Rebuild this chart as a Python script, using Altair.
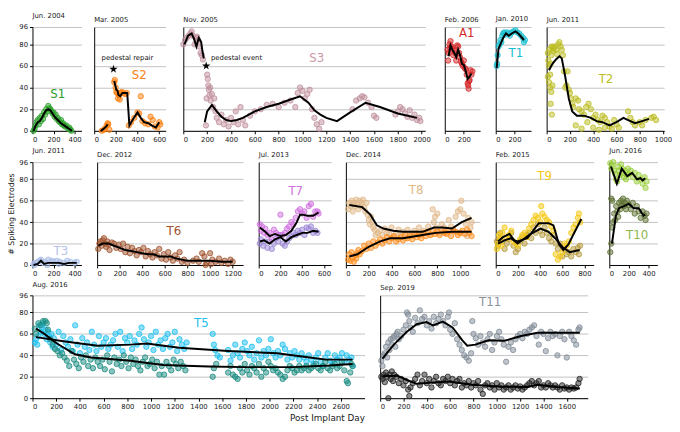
import altair as alt
import pandas as pd

YT = [0, 20, 40, 60, 80, 96]

S1_px = [10, 20, 30, 40, 50, 60, 70, 80, 90, 100, 110, 120, 130, 140, 150, 160, 170, 180, 190, 200, 210, 220, 230, 240, 250, 260, 270, 280, 290, 300, 310, 320, 340, 350, 360, 370]
S1_py = [0, 2, 5, 8, 10, 6, 12, 9, 14, 11, 17, 15, 20, 18, 23, 21, 20, 18, 16, 17, 13, 15, 11, 12, 9, 8, 10, 6, 7, 5, 4, 5, 2, 3, 1, 0]
S1_lx = [10, 30, 50, 70, 90, 110, 130, 150, 170, 190, 210, 240, 270, 300, 330, 360, 375]
S1_ly = [0, 5, 8, 9, 12, 16, 19, 20, 19, 16, 13, 10, 7, 5, 3, 1, 0]

S2_px = [70, 90, 100, 115, 125, 130, 140, 185, 190, 198, 205, 212, 220, 228, 236, 245, 255, 270, 285, 300, 320, 340, 370, 400, 415, 430, 445, 470, 500, 520, 540, 560, 585, 600, 610]
S2_py = [0, 1, 2, 5, 7, 6, 1, 45, 47, 40, 36, 35, 30, 33, 29, 35, 36, 35, 34, 35, 5, 8, 12, 17, 16, 32, 9, 7, 6, 13, 10, 4, 3, 8, 6]
S2_l1x = [60, 90, 110, 125]
S2_l1y = [0, 2, 4, 6]
S2_l2x = [185, 195, 205, 215, 225, 240, 260, 290, 305, 325, 360, 400, 430, 460, 500, 530, 570, 600]
S2_l2y = [46, 42, 38, 37, 33, 32, 35, 35, 35, 5, 11, 17, 12, 8, 7, 5, 3, 8]

S3_px = [0, 15, 30, 45, 60, 70, 80, 95, 105, 115, 125, 135, 145, 155, 165,
         190, 195, 200, 205, 210, 215, 220, 225, 230, 240, 250, 260, 270, 280, 300, 320, 340, 360, 380, 400,
         420, 440, 460, 480, 500, 520, 560, 600, 650, 700, 750, 800, 850, 900, 940, 960, 980, 1000, 1020,
         1040, 1060, 1080, 1100, 1120, 1140, 1160, 1420, 1450, 1480, 1500, 1520, 1550, 1580, 1600, 1620,
         1780, 1800, 1820, 1840, 1860, 1880, 1900, 1920, 1940, 1960, 1980, 1990]
S3_py = [80, 84, 86, 88, 90, 92, 88, 80, 86, 87, 84, 78, 72, 70, 66,
         5, 30, 52, 48, 42, 38, 33, 40, 28, 34, 22, 30, 18, 12, 8, 15, 6, 10, 4, 12,
         8, 18, 6, 22, 10, 5, 14, 18, 20, 24, 25, 22, 26, 28, 22, 35, 40, 37, 30,
         34, 38, 20, 12, 6, 2, 8, 20, 28, 30, 32, 31, 26, 22, 14, 12,
         15, 18, 22, 20, 16, 13, 19, 12, 15, 10, 12, 9]
S3_l1x = [10, 40, 70, 90, 110, 130, 150, 160, 172]
S3_l1y = [80, 88, 90, 85, 78, 86, 82, 74, 67]
S3_l2x = [180, 200, 240, 280, 320, 360, 400, 450, 500, 600, 700, 800, 900, 980, 1050, 1100, 1150, 1200, 1290, 1400, 1530, 1650, 1800, 1960]
S3_l2y = [8, 18, 24, 18, 13, 10, 9, 10, 12, 18, 22, 25, 29, 32, 26, 19, 15, 12, 9, 17, 26, 22, 16, 12]

A1_px = [30, 35, 40, 50, 55, 60, 70, 80, 90, 100, 110, 120, 130, 140, 150, 160, 170, 180, 190, 200, 210, 220, 230, 240, 245, 250, 255, 260, 270, 280, 290]
A1_py = [75, 65, 72, 80, 77, 83, 78, 76, 70, 74, 72, 65, 79, 78, 72, 68, 64, 62, 60, 65, 58, 57, 52, 44, 42, 39, 46, 47, 56, 52, 55]
A1_lx = [40, 60, 80, 100, 120, 140, 160, 180, 200, 220, 240, 260, 280]
A1_ly = [69, 79, 75, 72, 68, 75, 70, 62, 61, 55, 48, 50, 53]

T1_px = [10, 15, 20, 30, 40, 50, 60, 70, 80, 90, 100, 120, 140, 150, 170, 190, 210, 230, 250, 270, 290, 300, 310]
T1_py = [60, 62, 70, 78, 80, 84, 82, 88, 90, 91, 89, 91, 90, 88, 91, 92, 93, 91, 90, 88, 86, 82, 84]
T1_lx = [10, 30, 50, 80, 110, 140, 170, 210, 240, 270, 300]
T1_ly = [58, 76, 80, 86, 90, 88, 90, 92, 90, 87, 84]

T2_px = [10, 15, 20, 25, 30, 35, 40, 45, 50, 55, 60, 70, 80, 90, 100, 110, 120, 130, 140, 150, 160, 170, 180, 10, 20, 30, 40, 50, 35, 45,
         190, 200, 210, 220, 230, 250, 270, 280, 300, 320, 340, 360, 380, 400, 420, 440, 460, 480, 500, 520, 540, 560, 580, 600, 620,
         700, 720, 740, 760, 800, 820, 850, 900, 920, 940, 250, 300, 350, 400, 450, 500]
T2_py = [72, 65, 60, 75, 52, 62, 70, 78, 77, 74, 76, 78, 75, 71, 80, 82, 78, 75, 70, 55, 40, 42, 55, 50, 45, 40, 36, 42, 25, 15,
         38, 35, 30, 25, 22, 30, 28, 20, 18, 15, 22, 25, 20, 12, 15, 10, 8, 14, 12, 8, 4, 2, 10, 6, 3,
         18, 12, 8, 5, 8, 5, 10, 12, 13, 10, 5, 2, 8, 3, 1, 3]
T2_lx = [20, 50, 80, 110, 130, 160, 190, 220, 260, 320, 380, 430, 480, 540, 600, 660, 700, 760, 820, 880]
T2_ly = [56, 62, 66, 69, 67, 50, 30, 18, 14, 14, 12, 9, 8, 5, 8, 12, 10, 7, 9, 11]

T3_px = [10, 20, 30, 50, 70, 80, 100, 120, 140, 150, 180, 200, 230, 250, 260, 300, 330, 360, 400, 420]
T3_py = [1, 0, 2, 3, 4, 5, 2, 3, 0, 5, 4, 3, 4, 1, 3, 2, 4, 3, 2, 3]
T3_lx = [10, 50, 80, 110, 150, 200, 250, 300, 350, 420]
T3_ly = [0, 1, 4, 1, 2, 2, 2, 1, 2, 2]

T6_px = [10, 20, 30, 40, 50, 60, 70, 80, 90, 100, 110, 130, 150, 170, 190, 210, 230, 250, 270, 290, 310, 330, 350, 370, 390,
         410, 430, 450, 470, 490, 510, 530, 550, 570, 590, 610, 630, 650, 670, 690, 710, 730, 750, 770, 800, 850, 880, 900,
         930, 950, 970, 1000, 1020, 1050, 1080, 1100, 1130, 1160, 1180, 1200, 960, 1010]
T6_py = [15, 20, 22, 18, 23, 25, 20, 17, 22, 19, 14, 21, 20, 16, 19, 15, 20, 12, 17, 11, 16, 13, 9, 14, 12,
         16, 8, 13, 10, 7, 12, 9, 15, 6, 10, 5, 12, 7, 4, 9, 6, 12, 3, 5, 2, 4, 6, 3,
         11, 8, 2, 11, 5, 3, 6, 2, 4, 1, 5, 3, 0, 1]
T6_lx = [10, 50, 100, 150, 200, 250, 300, 350, 400, 450, 500, 550, 600, 650, 700, 750, 800, 900, 1000, 1100, 1200]
T6_ly = [18, 20, 20, 18, 16, 14, 13, 12, 11, 10, 10, 8, 8, 8, 6, 5, 4, 4, 4, 3, 3]

T7a_px = [10, 20, 30, 50, 60, 80, 100, 120, 140, 160, 180, 200, 220, 240, 260, 280, 300, 320, 340, 360, 380, 400, 420, 440, 460, 480, 500, 520, 540, 550]
T7a_py = [38, 32, 36, 30, 34, 28, 30, 24, 33, 30, 28, 47, 28, 30, 34, 36, 40, 38, 44, 50, 52, 48, 50, 44, 55, 57, 45, 50, 50, 48]
T7a_lx = [10, 60, 100, 150, 200, 250, 300, 350, 380, 400, 450, 500, 550]
T7a_ly = [35, 31, 27, 29, 27, 28, 32, 40, 47, 47, 46, 46, 49]
T7b_px = [10, 20, 40, 60, 80, 100, 120, 140, 160, 180, 200, 220, 240, 260, 280, 300, 320, 340, 360, 380, 400, 420, 440, 460, 480, 500, 520, 540]
T7b_py = [20, 24, 18, 22, 16, 22, 15, 20, 25, 22, 28, 20, 18, 22, 25, 27, 30, 28, 32, 30, 33, 28, 35, 34, 36, 30, 32, 30]
T7b_lx = [10, 50, 100, 150, 200, 250, 300, 350, 400, 450, 500, 550]
T7b_ly = [22, 23, 20, 24, 26, 22, 26, 28, 30, 30, 32, 31]

T8a_px = [20, 30, 40, 50, 60, 70, 80, 90, 100, 110, 120, 130, 140, 150, 160, 170, 180, 190, 200, 210, 220, 230, 240, 250, 260, 280,
          300, 320, 340, 360, 380, 400, 420, 440, 460, 480, 500, 520, 540, 560, 580, 600, 620, 640, 660, 680, 700, 720, 740,
          760, 770, 780, 790, 800, 820, 840, 860, 880, 900, 920, 940, 960, 980, 1000, 1010, 1030, 1050, 1070, 1090, 1100, 1000, 1060]
T8a_py = [52, 58, 55, 60, 50, 58, 55, 61, 57, 52, 60, 55, 58, 61, 54, 50, 58, 47, 42, 38, 45, 40, 35, 33, 28, 30,
          32, 28, 34, 30, 29, 35, 26, 30, 33, 28, 31, 25, 33, 29, 27, 32, 30, 35, 28, 32, 30, 36, 28,
          52, 40, 45, 35, 48, 30, 38, 35, 30, 42, 36, 32, 45, 50, 52, 60, 48, 38, 44, 35, 40, 30, 27]
T8a_lx = [30, 143, 214, 271, 329, 414, 500, 671, 771, 843, 929, 1014, 1100]
T8a_ly = [56, 54, 47, 37, 34, 32, 31, 31, 35, 35, 34, 40, 44]
T8b_px = [20, 30, 40, 50, 60, 70, 80, 90, 100, 110, 120, 140, 160, 180, 200, 220, 240, 260, 280, 300, 320, 340, 360, 380, 400,
          420, 440, 460, 480, 500, 520, 540, 560, 580, 600, 620, 640, 660, 680, 700, 720, 740, 760, 780, 800, 820, 840,
          860, 880, 900, 920, 940, 960, 980, 1000, 1020, 1040, 1060, 1080, 1100]
T8b_py = [5, 10, 4, 12, 7, 3, 9, 6, 11, 14, 10, 13, 18, 15, 20, 16, 22, 18, 21, 24, 20, 23, 26, 22, 25,
          27, 22, 24, 26, 23, 28, 25, 27, 24, 29, 26, 28, 25, 30, 27, 31, 28, 32, 29, 31, 28, 33,
          30, 29, 32, 27, 33, 31, 28, 30, 32, 29, 33, 30, 27]
T8b_lx = [30, 100, 200, 300, 386, 500, 671, 786, 929, 1100]
T8b_ly = [8, 10, 17, 22, 25, 25, 28, 30, 31, 31]

T9a_px = [10, 20, 30, 40, 50, 60, 80, 100, 120, 140, 160, 180, 200, 220, 240, 260, 280, 300, 320, 340, 360, 380, 400, 410, 420,
          440, 460, 480, 500, 520, 540, 560, 580, 600, 620, 640, 660, 680, 700, 720, 740, 750, 760]
T9a_py = [15, 20, 28, 24, 18, 30, 35, 25, 28, 32, 22, 20, 18, 24, 28, 30, 26, 34, 38, 42, 46, 44, 40, 55, 48,
          45, 42, 40, 36, 32, 10, 5, 8, 12, 20, 18, 22, 30, 35, 38, 44, 48, 40]
T9a_lx = [21, 65, 124, 168, 197, 285, 388, 476, 520, 571, 609, 653, 712, 771]
T9a_ly = [22, 26, 29, 23, 22, 25, 39, 39, 37, 19, 14, 19, 31, 43]
T9b_px = [10, 20, 30, 40, 60, 80, 100, 120, 140, 160, 180, 200, 220, 240, 260, 280, 300, 320, 340, 360, 380, 400, 420, 440,
          460, 480, 500, 520, 540, 560, 580, 600, 620, 640, 660, 680, 700, 720, 740, 760, 750]
T9b_py = [22, 18, 25, 30, 22, 15, 20, 24, 30, 18, 12, 15, 22, 26, 20, 28, 30, 25, 35, 30, 38, 32, 28, 35,
          30, 25, 22, 28, 20, 15, 20, 8, 14, 10, 12, 8, 15, 12, 16, 18, 10]
T9b_lx = [21, 79, 138, 197, 300, 403, 476, 535, 609, 668, 756]
T9b_ly = [20, 23, 25, 20, 28, 34, 31, 25, 16, 12, 14]

T10a_px = [10, 20, 30, 40, 50, 60, 70, 80, 90, 100, 110, 120, 130, 140, 150, 160, 170, 180, 190, 200, 220, 240, 260, 280, 300, 320, 340, 360, 370, 380]
T10a_py = [95, 90, 93, 96, 88, 85, 80, 78, 92, 88, 84, 94, 90, 86, 82, 88, 80, 84, 90, 85, 88, 82, 86, 78, 84, 80, 76, 82, 72, 78]
T10a_lx = [17, 77, 127, 183, 233, 283, 317, 340, 367]
T10a_ly = [92, 76, 90, 83, 86, 80, 81, 79, 81]
T10b_px = [10, 20, 30, 40, 50, 60, 70, 80, 90, 100, 110, 120, 130, 140, 150, 160, 170, 180, 200, 220, 240, 260, 280, 300, 320, 340, 360, 370, 380, 30, 20]
T10b_py = [12, 20, 35, 40, 48, 42, 55, 50, 45, 58, 52, 60, 56, 62, 55, 58, 52, 60, 56, 52, 58, 48, 55, 50, 44, 50, 46, 42, 48, 60, 62]
T10b_lx = [27, 67, 100, 150, 200, 250, 300, 350, 367]
T10b_ly = [20, 46, 53, 55, 57, 53, 53, 46, 47]

T5a_px = [20, 30, 40, 50, 60, 70, 80, 90, 100, 110, 120, 130, 140, 150, 160, 170, 180, 200, 220, 240, 260, 280, 300, 320, 340,
          360, 380, 400, 420, 440, 460, 480, 500, 520, 540, 560, 580, 600, 620, 640, 660, 680, 700, 720, 740, 760, 780, 800,
          820, 840, 860, 880, 900, 920, 940, 960, 980, 1000, 1020, 1040, 1060, 1080, 1100, 1120, 1140, 1160, 1180, 1200, 1220,
          1240, 1260, 1280, 1300, 1520, 1530, 1540, 1560, 1580, 1650, 1670, 1690, 1710, 1730, 1750, 1770, 1790, 1810, 1830,
          1850, 1870, 1890, 1910, 1930, 1950, 1970, 1990, 2010, 2030, 2050, 2070, 2090, 2110, 2130, 2150, 2170, 2190, 2210,
          2230, 2250, 2270, 2290, 2310, 2330, 2350, 2370, 2390, 2410, 2430, 2450, 2470, 2490, 2510, 2530, 2550, 2570, 2590,
          2610, 2630, 2650, 2670, 2690, 2700]
T5a_py = [52, 55, 50, 58, 68, 62, 66, 70, 60, 64, 55, 62, 58, 52, 60, 48, 56, 50, 62, 45, 58, 52, 48, 55, 44,
          68, 50, 42, 56, 48, 52, 45, 62, 50, 44, 58, 48, 52, 56, 46, 50, 54, 60, 48, 62, 44, 56, 52,
          58, 46, 54, 50, 60, 66, 55, 48, 52, 58, 45, 62, 50, 54, 46, 56, 60, 48, 52, 62, 44,
          55, 50, 46, 52, 60, 50, 45, 40, 38, 45, 35, 40, 50, 42, 38, 46, 52, 44, 40,
          48, 36, 42, 54, 38, 44, 40, 46, 55, 42, 38, 44, 40, 50, 46, 36, 42, 38, 44,
          40, 36, 42, 38, 34, 40, 36, 32, 38, 42, 34, 30, 38, 42, 35, 32, 40, 36, 38,
          42, 34, 40, 36, 38, 30]
T5a_lx = [30, 275, 550, 825, 963, 1238, 1650, 2063, 2338, 2476, 2700]
T5a_ly = [57, 53, 49, 50, 51, 47, 44, 42, 38, 36, 36]
T5b_px = [20, 30, 50, 70, 90, 110, 120, 130, 150, 170, 190, 210, 230, 250, 270, 290, 310, 330, 350, 370, 390, 410, 430, 450,
          470, 490, 510, 530, 550, 570, 590, 610, 630, 650, 670, 690, 710, 730, 750, 770, 790, 810, 830, 850, 870, 890, 910,
          930, 950, 970, 990, 1010, 1030, 1050, 1070, 1090, 1110, 1130, 1150, 1170, 1190, 1210, 1230, 1250, 1270, 1290,
          1520, 1530, 1550, 1650, 1670, 1690, 1710, 1730, 1750, 1770, 1790, 1810, 1830, 1850, 1870, 1890, 1910, 1930,
          1950, 1970, 1990, 2010, 2030, 2050, 2070, 2090, 2110, 2130, 2150, 2170, 2190, 2210, 2230, 2250, 2270, 2290,
          2310, 2330, 2350, 2370, 2390, 2410, 2430, 2450, 2470, 2490, 2510, 2530, 2550, 2570, 2590, 2610, 2630, 2650,
          2660, 2680, 2690, 2700]
T5b_py = [65, 60, 70, 68, 72, 72, 70, 64, 55, 50, 46, 44, 40, 42, 38, 35, 30, 44, 36, 32, 28, 38, 34, 40,
          30, 36, 28, 38, 34, 30, 36, 27, 40, 34, 25, 38, 32, 36, 30, 40, 34, 28, 38, 32, 36, 30, 26,
          34, 38, 30, 32, 36, 28, 34, 22, 30, 22, 34, 30, 26, 36, 32, 28, 34, 30, 26,
          20, 28, 32, 24, 30, 22, 20, 18, 28, 24, 32, 26, 22, 30, 28, 24, 32, 20,
          28, 24, 34, 30, 26, 28, 24, 22, 18, 20, 26, 30, 28, 24, 26, 30, 26, 28,
          30, 26, 28, 30, 32, 28, 26, 30, 34, 28, 26, 30, 32, 28, 30, 34, 26, 16,
          14, 24, 32, 30]
T5b_lx = [30, 100, 206, 358, 495, 825, 1100, 1485, 1800, 2200, 2500, 2700]
T5b_ly = [65, 60, 51, 41, 38, 35, 31, 29.5, 29, 29, 30.5, 32]

T11a_px = [10, 20, 30, 40, 50, 60, 70, 80, 90, 100, 110, 120, 130, 140, 150, 160, 180, 200, 220, 230, 240, 250, 260, 280, 300,
           320, 340, 360, 380, 400, 420, 440, 460, 480, 500, 520, 540, 560, 580, 590, 600, 620, 640, 660, 680, 700, 720,
           740, 760, 780, 790, 800, 820, 840, 860, 880, 900, 920, 940, 960, 980, 1000, 1020, 1040, 1060, 1080, 1100,
           1120, 1140, 1160, 1180, 1200, 1220, 1240, 1260, 1280, 1300, 1320, 1340, 1360, 1380, 1400, 1420, 1440, 1460,
           1480, 1500, 1520, 1540, 1560, 1580, 1600, 1620, 1640, 1660, 1680, 1700, 1710]
T11a_py = [35, 30, 40, 42, 48, 38, 52, 45, 55, 50, 56, 58, 48, 60, 62, 55, 58, 64, 68, 80, 78, 72, 66, 62, 75,
           70, 82, 74, 76, 68, 72, 65, 76, 70, 74, 78, 72, 68, 76, 80, 64, 60, 70, 55, 50, 45, 40,
           38, 35, 42, 72, 60, 56, 50, 58, 52, 48, 55, 60, 45, 52, 58, 62, 55, 50, 34, 48,
           52, 45, 55, 58, 60, 56, 62, 60, 64, 66, 68, 58, 50, 62, 60, 44, 56, 62,
           58, 60, 40, 58, 62, 55, 38, 62, 58, 54, 50, 64, 66]
T11a_lx = [20, 117, 229, 313, 397, 453, 537, 621, 705, 747, 817, 929, 1068, 1208, 1348, 1516, 1712]
T11a_ly = [37, 50, 62, 69, 71, 68, 71.5, 66, 54, 49, 50, 54, 53.7, 58, 61, 61, 61]
T11b_px = [10, 20, 30, 40, 50, 60, 70, 80, 90, 100, 110, 120, 140, 160, 180, 200, 220, 240, 250, 260, 280, 300, 320, 340,
           360, 380, 400, 420, 440, 460, 480, 500, 520, 540, 560, 580, 600, 620, 640, 660, 680, 700, 720, 740, 760, 780,
           800, 820, 840, 860, 880, 900, 920, 940, 960, 980, 1000, 1020, 1040, 1060, 1080, 1100, 1120, 1140, 1160, 1180,
           1200, 1220, 1240, 1260, 1280, 1300, 1320, 1340, 1360, 1380, 1400, 1420, 1440, 1460, 1480, 1500, 1520, 1540,
           1560, 1580, 1600, 1620, 1640, 1660, 1680, 1700, 1710]
T11b_py = [20, 18, 22, 15, 24, 20, 0, 22, 18, 25, 16, 22, 20, 14, 18, 12, 16, 8, 2, 10, 14, 18, 22, 12,
           16, 22, 14, 18, 10, 16, 20, 14, 12, 18, 16, 20, 14, 18, 12, 16, 18, 10, 14, 12, 16, 10,
           14, 12, 16, 8, 4, 12, 14, 10, 12, 8, 14, 10, 12, 8, 10, 12, 8, 10, 12, 9,
           11, 8, 10, 12, 14, 16, 12, 14, 16, 10, 12, 10, 14, 12, 10, 12, 10, 8,
           12, 9, 10, 8, 10, 9, 10, 14, 18]
T11b_lx = [20, 145, 229, 313, 453, 593, 789, 1012, 1264, 1348, 1516, 1712]
T11b_ly = [20.6, 21, 17, 13.4, 14.6, 15.5, 12.5, 11, 10.4, 12.5, 10.4, 9]

FONT = "DejaVu Sans"
GRID = "#c2c2c2"
STAR = ("M0,-1L0.2245,-0.309L0.9511,-0.309L0.3633,0.118L0.5878,0.809L0,0.382"
        "L-0.5878,0.809L-0.3633,0.118L-0.9511,-0.309L-0.2245,-0.309Z")


def ser(color, px, py, lines):
    return {"c": color, "px": px, "py": py, "lines": lines}


def lab(x, y, t, c, fs=12):
    return {"x": x, "y": y, "t": t, "c": c, "fs": fs}


def panel(title, xmax, width, height, xticks, series, labels, first=False,
          ytitle_opacity=0.0, xtitle=None, stars=None):
    xs = alt.Scale(domain=[0, xmax], nice=False, zero=False)
    ys = alt.Scale(domain=[0, 96], nice=False, zero=False)
    xkw = dict(values=xticks, format="d", grid=False, ticks=True, tickSize=3, tickColor="black",
               labelFontSize=7, labelPadding=2, domainColor="black", labelFont=FONT, labelColor="#222")
    if xtitle is not None:
        xkw.update(titleAnchor="end", titleFontSize=9, titleFontWeight="normal",
                   titlePadding=4, titleFont=FONT, titleColor="#222")
    X = alt.X("x:Q", scale=xs, axis=alt.Axis(**xkw), title=xtitle)
    if first:
        yax = alt.Axis(values=YT, grid=True, gridColor=GRID, domainColor="black", tickColor="black",
                       tickSize=3, labelFontSize=7, labelPadding=2, labelFont=FONT, labelColor="#222",
                       titleFontSize=8, titleFontWeight="normal", titlePadding=3, titleFont=FONT,
                       titleOpacity=ytitle_opacity, titleColor="#222")
        Y = alt.Y("y:Q", scale=ys, axis=yax, title="# Spiking Electrodes")
    else:
        yax = alt.Axis(values=YT, grid=True, gridColor=GRID, labels=False,
                       ticks=False, domainColor="black")
        Y = alt.Y("y:Q", scale=ys, axis=yax, title=None)

    prow, lrow = [], []
    for si, s in enumerate(series):
        for x, y in zip(s["px"], s["py"]):
            prow.append({"x": x, "y": y, "c": s["c"]})
        for li, (lx, ly) in enumerate(s["lines"]):
            for x, y in zip(lx, ly):
                lrow.append({"x": x, "y": y, "s": f"{si}-{li}"})
    pdf = pd.DataFrame(prow)
    ldf = pd.DataFrame(lrow)

    pts = alt.Chart(pdf).mark_circle(size=30, fillOpacity=0.5, strokeWidth=0.8).encode(
        x=X, y=Y, fill=alt.Fill("c:N", scale=None), stroke=alt.Stroke("c:N", scale=None))
    lns = alt.Chart(ldf).mark_line(color="black", strokeWidth=2).encode(x=X, y=Y, detail="s:N")
    txt = alt.Chart(pd.DataFrame(labels)).mark_text(font=FONT).encode(
        x=X, y=Y, text="t:N", fill=alt.Fill("c:N", scale=None), size=alt.Size("fs:Q", scale=None))
    layers = [pts, lns, txt]
    if stars:
        layers.append(alt.Chart(pd.DataFrame(stars)).mark_point(
            shape=STAR, filled=True, color="black", size=80, opacity=1).encode(x=X, y=Y))
    return alt.layer(*layers).properties(
        width=width, height=height,
        title=alt.TitleParams(title, anchor="start", fontSize=7, fontWeight="normal",
                              offset=4, font=FONT, color="#222", frame="group"))


H1, H2, H3 = 106, 105, 105

p_s1 = panel("Jun. 2004", 465, 50, H1, [0, 200, 400],
             [ser("#2ca02c", S1_px, S1_py, [(S1_lx, S1_ly)])],
             [lab(240, 34, "S1", "#2ca02c")], first=True, ytitle_opacity=0.0)
p_s2 = panel("Mar. 2005", 660, 73, H1, [0, 200, 400, 600],
             [ser("#ff7f0e", S2_px, S2_py, [(S2_l1x, S2_l1y), (S2_l2x, S2_l2y)])],
             [lab(415, 52, "S2", "#ff7f0e"), lab(307, 67, "pedestal repair", "#111111", 7)],
             stars=[{"x": 178, "y": 57}])
p_s3 = panel("Nov. 2005", 2030, 247, H1, list(range(0, 2001, 200)),
             [ser("#c0909c", S3_px, S3_py, [(S3_l1x, S3_l1y), (S3_l2x, S3_l2y)])],
             [lab(1120, 67, "S3", "#c99aa6"), lab(447, 67, "pedestal event", "#111111", 7)],
             stars=[{"x": 192, "y": 60}])
p_a1 = panel("Feb. 2006", 370, 36, H1, [0, 200],
             [ser("#d62728", A1_px, A1_py, [(A1_lx, A1_ly)])],
             [lab(230, 90, "A1", "#d62728")])
p_t1 = panel("Jan. 2010", 375, 36, H1, [0, 200],
             [ser("#17becf", T1_px, T1_py, [(T1_lx, T1_ly)])],
             [lab(215, 72, "T1", "#17becf")])
p_t2 = panel("Jun. 2011", 1010, 120, H1, [0, 200, 400, 600, 800, 1000],
             [ser("#bcbd22", T2_px, T2_py, [(T2_lx, T2_ly)])],
             [lab(510, 48, "T2", "#bcbd22")])

p_t3 = panel("Jun. 2011", 465, 50, H2, [0, 200, 400],
             [ser("#a9bde8", T3_px, T3_py, [(T3_lx, T3_ly)])],
             [lab(270, 13, "T3", "#b4c4ec")], first=True, ytitle_opacity=1.0)
p_t6 = panel("Dec. 2012", 1292, 149, H2, [0, 200, 400, 600, 800, 1000, 1200],
             [ser("#a0522d", T6_px, T6_py, [(T6_lx, T6_ly)])],
             [lab(680, 32, "T6", "#a0522d")])
p_t7 = panel("Jul. 2013", 666, 74, H2, [0, 200, 400, 600],
             [ser("#9b86d6", T7b_px, T7b_py, [(T7b_lx, T7b_ly)]),
              ser("#d070e0", T7a_px, T7a_py, [(T7a_lx, T7a_ly)])],
             [lab(340, 69, "T7", "#d070e0")])
p_t8 = panel("Dec. 2014", 1174, 137, H2, [0, 200, 400, 600, 800, 1000],
             [ser("#e0b888", T8a_px, T8a_py, [(T8a_lx, T8a_ly)]),
              ser("#ff8c1a", T8b_px, T8b_py, [(T8b_lx, T8b_ly)])],
             [lab(615, 70, "T8", "#e0b888")])
p_t9 = panel("Feb. 2015", 882, 100, H2, [0, 200, 400, 600, 800],
             [ser("#b59a3c", T9b_px, T9b_py, [(T9b_lx, T9b_ly)]),
              ser("#f5c80f", T9a_px, T9a_py, [(T9a_lx, T9a_ly)])],
             [lab(440, 83, "T9", "#f5c80f")])
p_t10 = panel("Jun. 2016", 490, 49, H2, [0, 200, 400],
              [ser("#9acd3c", T10a_px, T10a_py, [(T10a_lx, T10a_ly)]),
               ser("#5b7030", T10b_px, T10b_py, [(T10b_lx, T10b_ly)])],
              [lab(283, 28, "T10", "#8db84a")])

p_t5 = panel("Aug. 2016", 2800, 339, H3, list(range(0, 2601, 200)),
             [ser("#1cc0f0", T5a_px, T5a_py, [(T5a_lx, T5a_ly)]),
              ser("#1a8c80", T5b_px, T5b_py, [(T5b_lx, T5b_ly)])],
             [lab(1425, 70, "T5", "#1cc0f0")], first=True, ytitle_opacity=0.0,
             xtitle="Post Implant Day")
p_t11 = panel("Sep. 2019", 1780, 212, H3, list(range(0, 1601, 200)),
              [ser("#7f8a96", T11a_px, T11a_py, [(T11a_lx, T11a_ly)]),
               ser("#222222", T11b_px, T11b_py, [(T11b_lx, T11b_ly)])],
              [lab(943, 90, "T11", "#8c949c")])

row1 = alt.hconcat(p_s1, p_s2, p_s3, p_a1, p_t1, p_t2, spacing=12)
row2 = alt.hconcat(p_t3, p_t6, p_t7, p_t8, p_t9, p_t10, spacing=12)
row3 = alt.hconcat(p_t5, p_t11, spacing=12)

chart = alt.vconcat(row1, row2, row3, spacing=4).properties(padding=0).configure_view(stroke=None)
chart.save("out.html", embed_options={"renderer": "svg", "actions": False})
